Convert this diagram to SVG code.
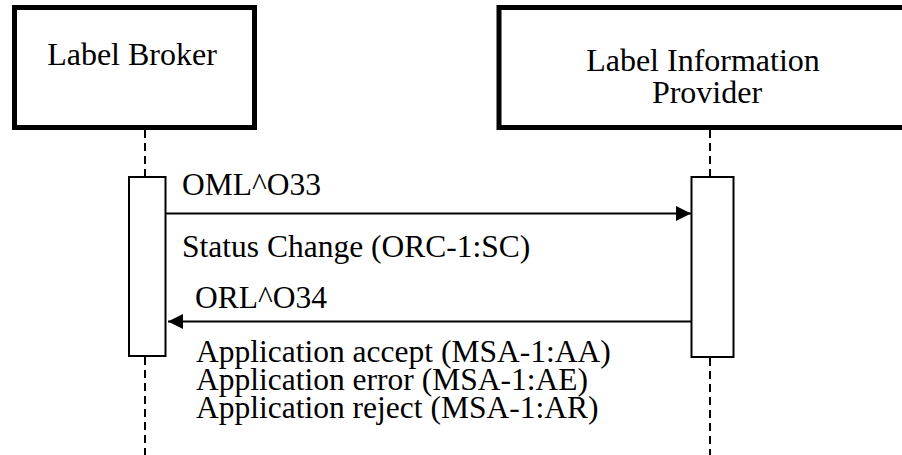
<svg xmlns="http://www.w3.org/2000/svg" width="902" height="455" viewBox="0 0 902 455">
<defs>
<style>
.hdr{fill:#fff;stroke:#000;stroke-width:5}
.act{fill:#fff;stroke:#000;stroke-width:2}
.life{stroke:#000;stroke-width:2;stroke-dasharray:8 5;fill:none}
.msg{stroke:#000;stroke-width:2;fill:none}
</style>
<marker id="ah" markerWidth="16" markerHeight="16" refX="15" refY="7.5" orient="auto" markerUnits="userSpaceOnUse">
<path d="M0,0 L15,7.5 L0,15 Z" fill="#000"/>
</marker>
</defs>
<rect width="902" height="455" fill="#fff"/>
<g id="lifelines">
<line class="life" x1="145" y1="130" x2="145" y2="177"/>
<line class="life" x1="145" y1="357" x2="145" y2="455"/>
<line class="life" x1="710" y1="130" x2="710" y2="177"/>
<line class="life" x1="710" y1="358" x2="710" y2="455"/>
</g>
<g id="label-broker">
<rect class="hdr" x="14.5" y="7.5" width="240" height="120"/>
<text x="132" y="65" font-family="Liberation Serif" font-size="32" text-anchor="middle">Label Broker</text>
</g>
<g id="label-information-provider">
<rect class="hdr" x="499" y="7.5" width="420" height="120"/>
<text x="703" y="71" font-family="Liberation Serif" font-size="32" text-anchor="middle">Label Information</text>
<text x="707" y="103" font-family="Liberation Serif" font-size="32" text-anchor="middle">Provider</text>
</g>
<g id="activation-broker">
<rect class="act" x="129" y="177" width="36.5" height="179"/>
</g>
<g id="activation-provider">
<rect class="act" x="691.5" y="177" width="42" height="180"/>
</g>
<g id="connectors">
<line class="msg" x1="166" y1="213.5" x2="691" y2="213.5" marker-end="url(#ah)"/>
<line class="msg" x1="691" y1="321.5" x2="168" y2="321.5" marker-end="url(#ah)"/>
</g>
<g id="labels">
<text x="182" y="195" font-family="Liberation Serif" font-size="31.5">OML^O33</text>
<text x="182" y="257" font-family="Liberation Serif" font-size="31.5">Status Change (ORC-1:SC)</text>
<text x="195" y="308" font-family="Liberation Serif" font-size="31.5">ORL^O34</text>
<text x="196" y="362" font-family="Liberation Serif" font-size="31.5">Application accept (MSA-1:AA)</text>
<text x="196" y="390" font-family="Liberation Serif" font-size="31.5">Application error (MSA-1:AE)</text>
<text x="196" y="418" font-family="Liberation Serif" font-size="31.5">Application reject (MSA-1:AR)</text>
</g>
</svg>
